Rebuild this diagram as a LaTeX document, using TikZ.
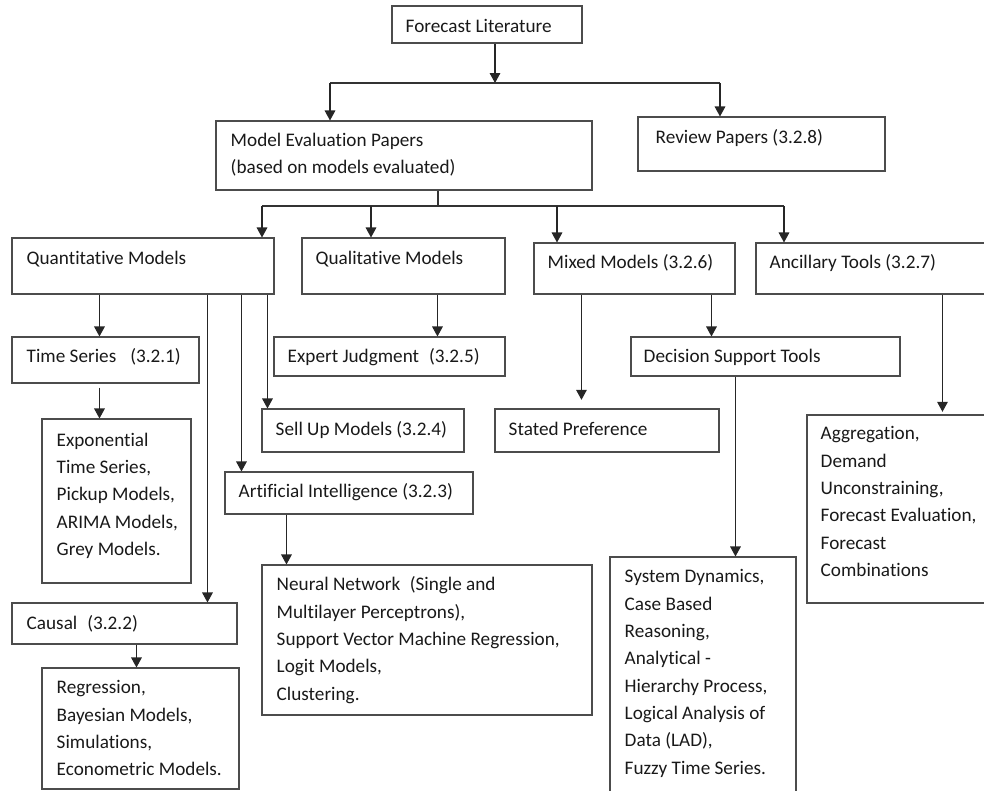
\documentclass[tikz,border=0pt]{standalone}
\usepackage{fontspec}
\setmainfont[Ligatures=NoCommon]{Carlito}
\usetikzlibrary{arrows.meta,fit,calc}
\tikzset{
  box/.style={draw=black!70, line width=0.8pt, inner sep=0pt},
  txt/.style={anchor=north west, inner sep=0pt, align=left, text=black!90,
    font=\fontsize{14.4pt}{20.5pt}\selectfont,
    execute at begin node={\rule{0pt}{12pt}}},
  arr/.style={draw=black!85, line width=0.8pt, -{Triangle[width=8pt,length=7.5pt]}},
}
\begin{document}
\begin{tikzpicture}[x=0.75pt,y=-0.75pt]
\clip (0,0) rectangle (984,790);
% boxes
\node[box, fit={(392,6) (582,43)}] (lit) {};
\node[box, fit={(216,121) (592,190)}] (mep) {};
\node[box, fit={(638,117) (885,171)}] (rev) {};
\node[box, fit={(12,238) (274,294)}] (qnt) {};
\node[box, fit={(302,238) (505,294)}] (qlt) {};
\node[box, fit={(534,243) (735,294)}] (mix) {};
\node[box, fit={(756,243) (1000,294)}] (anc) {};
\node[box, fit={(12,337) (199,383)}] (tms) {};
\node[box, fit={(274,337) (505,376)}] (exj) {};
\node[box, fit={(42,419) (191,583)}] (exp) {};
\node[box, fit={(262,409) (464,452)}] (sel) {};
\node[box, fit={(225,472) (473,514)}] (art) {};
\node[box, fit={(262,565) (592,715)}] (neu) {};
\node[box, fit={(12,603) (237,644)}] (csl) {};
\node[box, fit={(42,668) (239,789)}] (reg) {};
\node[box, fit={(495,409) (719,452)}] (stp) {};
\node[box, fit={(631,337) (900,376)}] (dst) {};
\node[box, fit={(610,557) (796,830)}] (sys) {};
\node[box, fit={(807,415) (1000,603)}] (agg) {};
% texts
\node[txt] (lit-t) at ($(lit.north west)+(14,11)$) {Forecast Literature};
\node[txt] (mep-t) at ($(mep.north west)+(15,12)$) {Model Evaluation Papers\\(based on models evaluated)};
\node[txt] (rev-t) at ($(rev.north west)+(18,11)$) {Review Papers (3.2.8)};
\node[txt] (qnt-t) at ($(qnt.north west)+(15,11)$) {Quantitative Models};
\node[txt] (qlt-t) at ($(qlt.north west)+(14,11)$) {Qualitative Models};
\node[txt] (mix-t) at ($(mix.north west)+(14,10)$) {Mixed Models (3.2.6)};
\node[txt] (anc-t) at ($(anc.north west)+(14,10)$) {Ancillary Tools (3.2.7)};
\node[txt] (tms-t) at ($(tms.north west)+(15,10)$) {Time Series\hspace{10.5pt}(3.2.1)};
\node[txt] (exj-t) at ($(exj.north west)+(14,10)$) {Expert Judgment\hspace{7.5pt}(3.2.5)};
\node[txt] (exp-t) at ($(exp.north west)+(15,14)$) {Exponential\\Time Series,\\Pickup Models,\\ARIMA Models,\\Grey Models.};
\node[txt] (sel-t) at ($(sel.north west)+(14,11)$) {Sell Up Models (3.2.4)};
\node[txt] (art-t) at ($(art.north west)+(14,10)$) {Artificial Intelligence (3.2.3)};
\node[txt] (neu-t) at ($(neu.north west)+(15,12)$) {Neural Network\hspace{7pt}(Single and\\Multilayer Perceptrons),\\Support Vector Machine Regression,\\Logit Models,\\Clustering.};
\node[txt] (csl-t) at ($(csl.north west)+(15,11)$) {Causal\hspace{7.5pt}(3.2.2)};
\node[txt] (reg-t) at ($(reg.north west)+(15,13)$) {Regression,\\Bayesian Models,\\Simulations,\\Econometric Models.};
\node[txt] (stp-t) at ($(stp.north west)+(14,11)$) {Stated Preference};
\node[txt] (dst-t) at ($(dst.north west)+(13,10)$) {Decision Support Tools};
\node[txt] (sys-t) at ($(sys.north west)+(15,13)$) {System Dynamics,\\Case Based\\Reasoning,\\Analytical -\\Hierarchy Process,\\Logical Analysis of\\Data (LAD),\\Fuzzy Time Series.};
\node[txt] (agg-t) at ($(agg.north west)+(14,12)$) {Aggregation,\\Demand\\Unconstraining,\\Forecast Evaluation,\\Forecast\\Combinations};
% first level
\coordinate (top) at (495,83);
\coordinate (busL) at (330,83);
\coordinate (busR) at (720,83);
\draw[arr] (lit.south -| top) -- (top);
\draw[draw=black!80, line width=0.8pt] (busL) -- (busR);
\draw[arr] (busL) -- (busL |- mep.north);
\draw[arr] (busR) -- (busR |- rev.north);
% second level
\coordinate (mid) at (438,206);
\coordinate (b1) at (262,206);
\coordinate (b2) at (371,206);
\coordinate (b3) at (557,206);
\coordinate (b4) at (784,206);
\draw[draw=black!80, line width=0.8pt] (mep.south -| mid) -- (mid);
\draw[draw=black!80, line width=0.8pt] (b1) -- (b4);
\foreach \b/\n in {b1/qnt,b2/qlt,b3/mix,b4/anc}
  \draw[arr] (\b) -- (\b |- \n.north);
% quantitative branches
\foreach \dx/\n in {88/tms,196/csl,230/art,256/sel}
  \draw[arr] ($(qnt.south west)+(\dx,0)$) coordinate (s) -- (s |- \n.north);
\draw[arr] ($(tms.south west)+(88,4)$) coordinate (s) -- (s |- exp.north);
\draw[arr] ($(csl.south west)+(125,0)$) coordinate (s) -- (s |- reg.north);
\draw[arr] ($(art.south west)+(62,0)$) coordinate (s) -- (s |- neu.north);
% other branches
\draw[arr] ($(qlt.south west)+(136,0)$) coordinate (s) -- (s |- exj.north);
\draw[arr, shorten >=6.5pt] ($(mix.south west)+(48,0)$) coordinate (s) -- (s |- stp.north);
\draw[arr] ($(mix.south west)+(178,0)$) coordinate (s) -- (s |- dst.north);
\draw[arr] ($(dst.south west)+(105,0)$) coordinate (s) -- (s |- sys.north);
\draw[arr, shorten >=2pt] ($(anc.south west)+(187,0)$) coordinate (s) -- (s |- agg.north);
\end{tikzpicture}
\end{document}
